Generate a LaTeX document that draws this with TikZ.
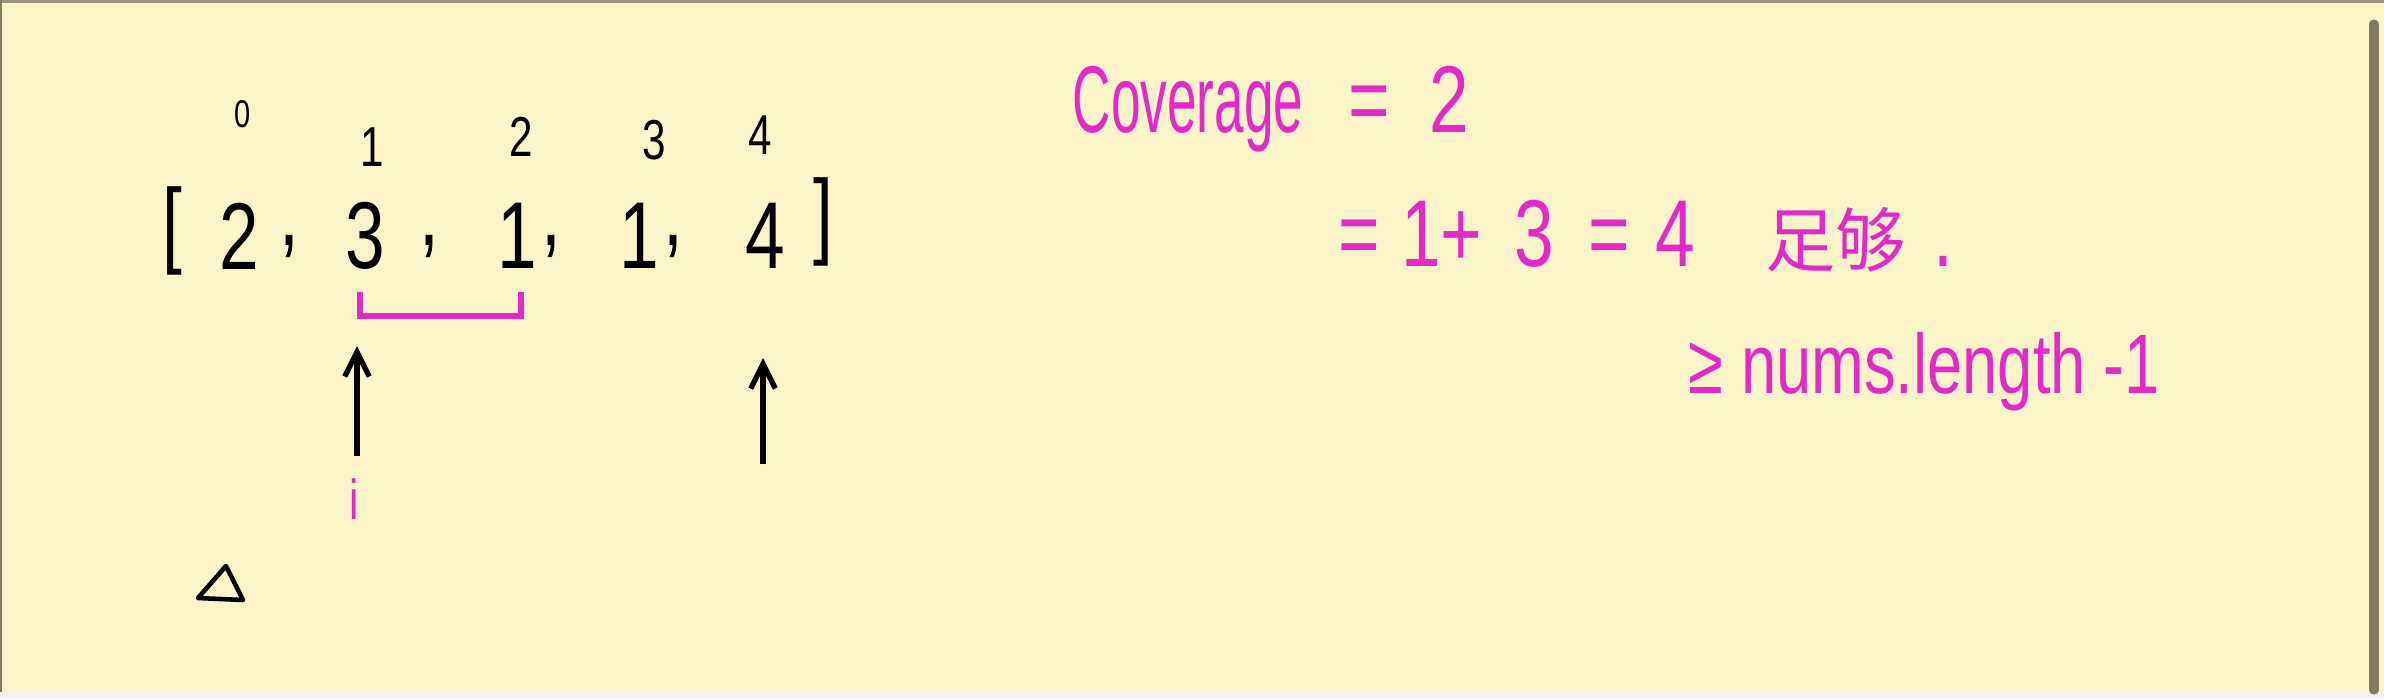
\documentclass[tikz,border=0pt]{standalone}
\usepackage{fontspec}
\usetikzlibrary{arrows.meta}
\setmainfont{Liberation Sans}
\newfontfamily\hand[FakeStretch=0.75]{Liberation Sans}
\newfontfamily\narrowhand[FakeStretch=0.56]{Liberation Sans}
\newfontfamily\cjk{Noto Sans CJK SC}
\definecolor{paper}{RGB}{251,244,201}
\definecolor{inkpink}{RGB}{226,42,200}
\definecolor{edge}{RGB}{128,121,95}

\begin{document}
\begin{tikzpicture}[x=0.01cm, y=-0.01cm,
  ink/.style={font=\hand\fontsize{27}{30}\selectfont, inner sep=0pt},
  idx/.style={font=\hand\fontsize{16}{18}\selectfont, inner sep=0pt},
  note/.style={text=inkpink, anchor=west, inner sep=0pt, font=\hand\fontsize{27}{30}\selectfont},
  pointer/.style={-{Straight Barb[length=7pt, width=7pt]}, line width=1.5pt}]
  \useasboundingbox (0,0) rectangle (2384,699);
  % paper and frame
  \fill[paper] (0,0) rectangle (2384,692);
  \fill[black!5] (0,692) rectangle (2384,699);
  \draw[edge!80, line width=0.9pt] (0,1.5) -- (2384,1.5);
  \draw[edge, line width=0.6pt] (1,0) -- (1,692);
  \draw[edge, line width=2.6pt, line cap=round] (2374,24) -- (2374,690);

  % the array
  \node[ink] (lb) at (172,231) {[};
  \foreach \v/\x [count=\k from 0] in {2/239, 3/365, 1/517, 1/639, 4/765}
    \node[ink] (n\k) at (\x,236) {\v};
  \foreach \x [count=\k from 0] in {289, 429, 551, 673}
    \node[ink] (c\k) at (\x,246) {,};
  \node[ink] (rb) at (823,222) {]};

  % indices
  \node[idx, font=\hand\fontsize{11}{13}\selectfont] (i0) at (243,114) {0};
  \foreach \x/\y [count=\k] in {372/147, 521/137, 654/140, 760/135}
    \node[idx] (i\k) at (\x,\y) {\k};

  % covered range
  \draw[inkpink, line width=1.6pt] (360,292) -- (360,316) -- (521,316) -- (521,292);

  % pointers
  \coordinate (p1) at (357,456);
  \coordinate (q1) at (357,346);
  \coordinate (p4) at (763,464);
  \coordinate (q4) at (763,358);
  \draw[pointer] (p1) -- (q1);
  \draw[pointer] (p4) -- (q4);
  \node[idx, text=inkpink] (ilab) at (354,499) {i};

  % triangle mark
  \draw[line width=1.3pt, line join=round] (226,566) -- (198,598) -- (243,600) -- cycle;

  % notes
  \node[note] (cov) at (1072,109) {{\narrowhand Coverage}\hspace{13pt}=\hspace{11pt}2};
  \node[note] (sum) at (1338,236) {=\hspace{6pt}1+\hspace{9pt}3\hspace{10pt}=\hspace{7pt}4\hspace{20pt}{\cjk\fontsize{20}{24}\selectfont 足够}\hspace{8pt}.};
  \node[note, font=\hand\fontsize{24}{28}\selectfont] (cmp) at (1688,372) {≥ nums.length -1};
\end{tikzpicture}
\end{document}
